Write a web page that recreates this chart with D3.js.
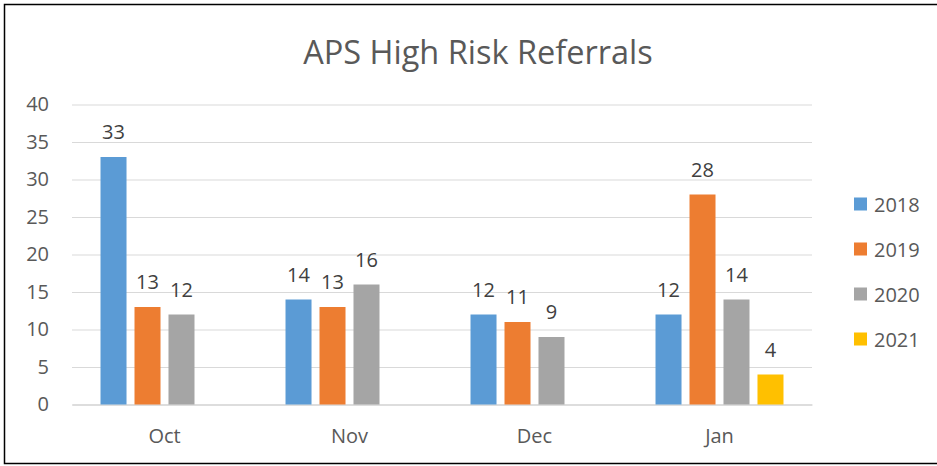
<!doctype html>
<html lang="en">
<head>
<meta charset="utf-8">
<title>APS High Risk Referrals</title>
<script src="https://cdn.jsdelivr.net/npm/d3@7"></script>
<style>
  body { margin: 0; background: #fff; }
  text { font-family: "Open Sans", "Noto Sans", sans-serif; }
</style>
</head>
<body>
<svg id="chart" width="937" height="466"></svg>
<script>
// data
var months = ["Oct", "Nov", "Dec", "Jan"];
var years = ["2018", "2019", "2020", "2021"];
var v2018 = [33, 14, 12, 12];
var v2019 = [13, 13, 11, 28];
var v2020 = [12, 16, 9, 14];
var v2021 = [null, null, null, 4];
var yTicks = [0, 5, 10, 15, 20, 25, 30, 35, 40];
var colors = ["#5b9bd5", "#ed7d31", "#a5a5a5", "#ffc000"];

var series = [v2018, v2019, v2020, v2021];
var rows = [];
months.forEach(function(m, i) {
  years.forEach(function(y, j) {
    if (series[j][i] != null) rows.push({ month: m, year: y, value: series[j][i], c: colors[j] });
  });
});

var fs = 20;
var svg = d3.select("#chart");

// outer frame
svg.append("rect")
  .attr("x", 4.5).attr("y", 4.5)
  .attr("width", 960).attr("height", 459)
  .attr("fill", "none").attr("stroke", "#000").attr("stroke-width", 1.5);

svg.append("text")
  .attr("x", 478).attr("y", 64)
  .attr("text-anchor", "middle")
  .attr("font-size", 32.5)
  .attr("fill", "#595959")
  .text("APS High Risk Referrals");

var x0 = d3.scaleBand().domain(months).range([72, 812]);
var x1 = d3.scaleBand().domain(years).range([0, 136]).paddingInner(0.235).paddingOuter(0.118);
var groupOff = (x0.bandwidth() - 136) / 2;
var y = d3.scaleLinear().domain([0, 40]).range([404.5, 104.5]);

// gridlines
var yAxis = d3.axisLeft(y).tickValues(yTicks).tickSize(-740).tickPadding(23);
var gy = svg.append("g").attr("transform", "translate(72,0)").call(yAxis);
gy.select(".domain").remove();
gy.selectAll(".tick line").attr("stroke", "#d9d9d9").attr("stroke-width", 1.2);
gy.selectAll(".tick text")
  .attr("font-size", fs).attr("fill", "#595959")
  .attr("font-family", "Open Sans, Noto Sans, sans-serif");

// month axis
var xAxis = d3.axisBottom(x0).tickSize(0).tickPadding(24);
var gx = svg.append("g").attr("transform", "translate(0,404.5)").call(xAxis);
gx.select(".domain").attr("stroke", "#d9d9d9").attr("stroke-width", 1.5);
gx.selectAll(".tick text")
  .attr("font-size", fs).attr("fill", "#595959")
  .attr("font-family", "Open Sans, Noto Sans, sans-serif");

var bars = svg.append("g");
bars.selectAll("rect").data(rows).enter().append("rect")
  .attr("x", function(d) { return x0(d.month) + groupOff + x1(d.year); })
  .attr("y", function(d) { return y(d.value); })
  .attr("width", x1.bandwidth())
  .attr("height", function(d) { return y(0) - y(d.value); })
  .attr("fill", function(d) { return d.c; });

bars.selectAll("text").data(rows).enter().append("text")
  .attr("x", function(d) { return x0(d.month) + groupOff + x1(d.year) + x1.bandwidth() / 2; })
  .attr("y", function(d) { return y(d.value) - 18; })
  .attr("text-anchor", "middle")
  .attr("font-size", fs)
  .attr("fill", "#404040")
  .text(function(d) { return d.value; });

// legend
var leg = svg.append("g").selectAll("g").data(years).enter().append("g")
  .attr("transform", function(d, i) { return "translate(854," + (204 + i * 45) + ")"; });
leg.append("rect").attr("x", 0).attr("y", -6.5).attr("width", 13).attr("height", 13)
  .attr("fill", function(d, i) { return colors[i]; });
leg.append("text").attr("x", 20).attr("y", 7.5)
  .attr("font-size", fs).attr("fill", "#595959")
  .text(function(d) { return d; });
</script>
</body>
</html>
